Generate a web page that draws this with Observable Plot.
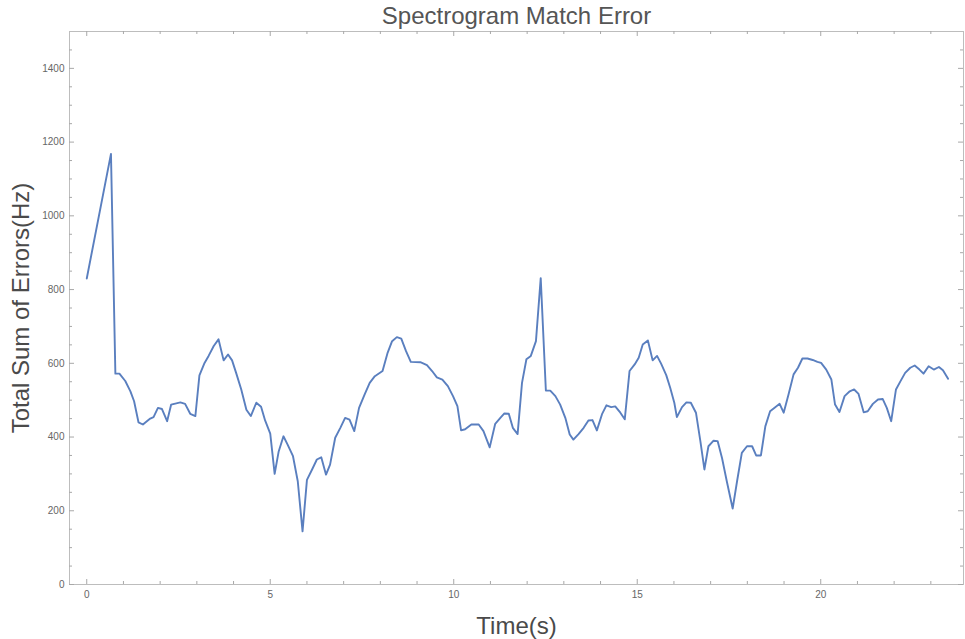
<!DOCTYPE html>
<html>
<head>
<meta charset="utf-8">
<script src="https://cdn.jsdelivr.net/npm/d3@7"></script>
<script src="https://cdn.jsdelivr.net/npm/@observablehq/plot@0.6"></script>
<style>
  html, body { margin: 0; padding: 0; background: #fff; }
  #chart svg { display: block; }
</style>
</head>
<body>
<div id="chart"></div>
<script>
const titleText = "Spectrogram Match Error";
const xLabel = "Time(s)";
const yLabel = "Total Sum of Errors(Hz)";

const times = [0, 0.66, 0.78, 0.89, 1.05, 1.19, 1.29, 1.41, 1.53, 1.73, 1.82, 1.94, 2.05, 2.19, 2.3, 2.55, 2.68, 2.82, 2.96, 3.07, 3.21, 3.32, 3.46, 3.59, 3.73, 3.85, 3.96, 4.07, 4.21, 4.35, 4.47, 4.62, 4.75, 4.86, 5.0, 5.12, 5.23, 5.36, 5.47, 5.62, 5.75, 5.88, 6.0, 6.14, 6.27, 6.39, 6.52, 6.63, 6.77, 6.91, 7.04, 7.16, 7.29, 7.42, 7.57, 7.71, 7.85, 8.06, 8.2, 8.32, 8.45, 8.57, 8.7, 8.83, 9.09, 9.27, 9.41, 9.54, 9.69, 9.84, 9.98, 10.1, 10.2, 10.31, 10.48, 10.68, 10.81, 10.98, 11.13, 11.27, 11.38, 11.5, 11.61, 11.74, 11.86, 11.98, 12.1, 12.24, 12.37, 12.51, 12.63, 12.77, 12.9, 13.04, 13.16, 13.26, 13.4, 13.54, 13.67, 13.78, 13.9, 14.04, 14.16, 14.29, 14.4, 14.54, 14.66, 14.79, 14.93, 15.04, 15.15, 15.29, 15.42, 15.54, 15.65, 15.79, 15.9, 16.01, 16.08, 16.22, 16.34, 16.46, 16.6, 16.72, 16.83, 16.94, 17.08, 17.19, 17.31, 17.44, 17.6, 17.72, 17.85, 17.99, 18.13, 18.24, 18.37, 18.49, 18.62, 18.76, 18.88, 18.99, 19.12, 19.26, 19.38, 19.5, 19.64, 19.78, 19.91, 20.01, 20.15, 20.29, 20.39, 20.51, 20.65, 20.79, 20.91, 21.03, 21.17, 21.28, 21.42, 21.56, 21.69, 21.8, 21.92, 22.05, 22.17, 22.3, 22.44, 22.56, 22.69, 22.8, 22.94, 23.08, 23.22, 23.33, 23.47];

const errors = [830, 1168, 572, 572, 552, 524, 497, 440, 434, 450, 454, 479, 476, 443, 488, 494, 490, 463, 457, 567, 601, 620, 647, 665, 608, 624, 608, 574, 529, 474, 457, 493, 482, 445, 409, 300, 361, 402, 380, 348, 280, 144, 284, 312, 339, 345, 298, 325, 398, 425, 452, 447, 416, 479, 515, 547, 565, 579, 629, 660, 671, 667, 633, 604, 603, 595, 579, 562, 556, 538, 511, 484, 418, 421, 434, 434, 416, 372, 436, 452, 464, 463, 425, 408, 547, 611, 620, 660, 831, 526, 526, 511, 488, 452, 407, 393, 408, 425, 445, 446, 418, 462, 486, 481, 483, 466, 448, 579, 597, 615, 651, 662, 608, 620, 599, 568, 533, 493, 454, 481, 494, 493, 466, 389, 312, 375, 390, 389, 343, 280, 206, 280, 357, 375, 375, 350, 350, 429, 470, 481, 490, 466, 515, 570, 588, 613, 613, 609, 604, 601, 583, 556, 488, 468, 511, 524, 529, 517, 467, 470, 490, 502, 503, 479, 443, 529, 551, 574, 588, 594, 583, 572, 592, 583, 590, 581, 558];

const xMajorTicks = [0, 5, 10, 15, 20];
const xMinorTicks = [1, 2, 3, 4, 6, 7, 8, 9, 11, 12, 13, 14, 16, 17, 18, 19, 21, 22, 23];
const yMajorTicks = [0, 200, 400, 600, 800, 1000, 1200, 1400];
const yMinorTicks = [50, 100, 150, 250, 300, 350, 450, 500, 550, 650, 700, 750, 850, 900, 950, 1050, 1100, 1150, 1250, 1300, 1350, 1450];

const data = times.map((t, i) => ({ t, e: errors[i] }));

const W = 965, H = 639;
const mL = 69, mR = 2, mT = 31, mB = 55;
const fw = W - mL - mR, fh = H - mT - mB;
const majorLen = 5, minorLen = 3;
const tickColor = "#a8a8a8";

function xTicks(vals, len) {
  return [
    Plot.tickX(vals, { x: d => d, stroke: tickColor, insetTop: fh - len }),
    Plot.tickX(vals, { x: d => d, stroke: tickColor, insetBottom: fh - len })
  ];
}
function yTicks(vals, len) {
  return [
    Plot.tickY(vals, { y: d => d, stroke: tickColor, insetRight: fw - len }),
    Plot.tickY(vals, { y: d => d, stroke: tickColor, insetLeft: fw - len })
  ];
}

const chart = Plot.plot({
  width: W,
  height: H,
  marginLeft: mL,
  marginRight: mR,
  marginTop: mT,
  marginBottom: mB,
  style: { fontFamily: "'Liberation Sans', Arial, sans-serif", background: "#fff" },
  x: { domain: [-0.47, 23.89] },
  y: { domain: [0, 1500] },
  marks: [
    Plot.frame({ stroke: "#bdbdbd" }),
    ...xTicks(xMajorTicks, majorLen),
    ...xTicks(xMinorTicks, minorLen),
    ...yTicks(yMajorTicks, majorLen),
    ...yTicks(yMinorTicks, minorLen),
    Plot.axisX({ ticks: xMajorTicks, tickSize: 0, tickPadding: 6, tickFormat: d => String(d), label: null, fontSize: 10, color: "#666" }),
    Plot.axisY({ ticks: yMajorTicks, tickSize: 0, tickPadding: 5, tickFormat: d => String(d), label: null, fontSize: 10, color: "#666" }),
    Plot.line(data, { x: "t", y: "e", stroke: "#5A7FBF", strokeWidth: 1.9, strokeLinejoin: "round" }),
    Plot.text([titleText], { frameAnchor: "top", text: d => d, dy: -8, lineAnchor: "bottom", fontSize: 24, fill: "#555" }),
    Plot.text([xLabel], { frameAnchor: "bottom", text: d => d, dy: 49, lineAnchor: "bottom", fontSize: 24, fill: "#4a4a4a" }),
    Plot.text([yLabel], { frameAnchor: "left", text: d => d, rotate: -90, textAnchor: "middle", dx: -41, lineAnchor: "bottom", fontSize: 24, fill: "#4a4a4a" })
  ]
});

document.getElementById("chart").appendChild(chart);
</script>
</body>
</html>
